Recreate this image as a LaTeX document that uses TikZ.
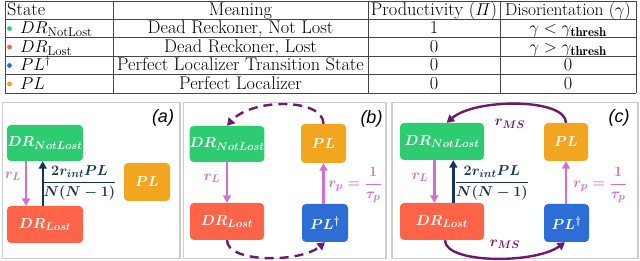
\documentclass[tikz,border=0pt]{standalone}
\usepackage{amsmath}
\usepackage{fontspec}
\newfontfamily\labelfont{Liberation Sans}
\usetikzlibrary{arrows.meta}
\definecolor{cgreen}{RGB}{46,204,113}
\definecolor{cred}{RGB}{255,99,72}
\definecolor{corange}{RGB}{242,165,30}
\definecolor{cblue}{RGB}{45,110,214}
\definecolor{cpink}{RGB}{214,110,210}
\definecolor{cnavy}{RGB}{22,52,88}
\definecolor{cpurple}{RGB}{112,24,110}
\definecolor{panelgray}{RGB}{205,205,205}
\definecolor{tabline}{RGB}{70,70,70}
\begin{document}
\begin{tikzpicture}[x=1pt,y=-1pt,
  tabtext/.style={font=\fontsize{18.3}{20}\selectfont, inner sep=0pt, anchor=base},
  statebox/.style={rounded corners=4pt, text=white, inner sep=0pt, font=\fontsize{15}{17}\selectfont\boldmath},
  mlabel/.style={inner sep=0pt, font=\fontsize{15}{17}\selectfont\boldmath},
  plabel/.style={inner sep=0pt, font=\labelfont\itshape\fontsize{18}{20}\selectfont},
  panel/.style={draw=panelgray, line width=1.6pt},
  pinkarrow/.style={draw=cpink, line width=2.4pt, -{Triangle[length=7.5pt,width=8pt]}},
  navyarrow/.style={draw=cnavy, line width=2.4pt, -{Triangle[length=7.5pt,width=8pt]}},
  purplearrow/.style={draw=cpurple, line width=2.4pt, -{Triangle[length=7.5pt,width=8.5pt]}},
  tabrule/.style={draw=tabline, line width=0.8pt}
]
\useasboundingbox (0,0) rectangle (640,261);
\fill[white] (0,0) rectangle (640,261);

% ---------- table ----------
\foreach \yy in {1,19,37.5,56,74.5,93} {\draw[tabrule] (5,\yy) -- (636,\yy);}
\foreach \xx in {5,113,368,500,636} {\draw[tabrule] (\xx,1) -- (\xx,93);}

\node[tabtext, anchor=base west] (hState) at (7,15.5) {State};
\node[tabtext] (hMeaning) at (240.5,15.5) {Meaning};
\node[tabtext] (hProd) at (434,15.5) {Productivity ($\varPi$)};
\node[tabtext, font=\fontsize{17.4}{20}\selectfont] (hDis) at (568,15.5) {Disorientation ($\gamma$)};

\fill[cgreen] (9.5,28.5) circle (2.4);
\fill[cred] (9.5,47) circle (2.4);
\fill[cblue] (9.5,65.5) circle (2.4);
\fill[corange] (9.5,84) circle (2.4);

\node[tabtext, anchor=base west] (s1) at (20,33.8) {$DR_{\mathrm{NotLost}}$};
\node[tabtext, anchor=base west] (s2) at (20,52.4) {$DR_{\mathrm{Lost}}$};
\node[tabtext, anchor=base west] (s3) at (20,70.9) {$PL^{\dagger}$};
\node[tabtext, anchor=base west] (s4) at (20,89.4) {$PL$};

\node[tabtext] (m1) at (240.5,33.8) {Dead Reckoner, Not Lost};
\node[tabtext] (m2) at (240.5,52.4) {Dead Reckoner, Lost};
\node[tabtext] (m3) at (240.5,70.9) {Perfect Localizer Transition State};
\node[tabtext] (m4) at (240.5,89.4) {Perfect Localizer};

\node[tabtext] (p1) at (434,33.8) {1};
\node[tabtext] (p2) at (434,52.4) {0};
\node[tabtext] (p3) at (434,70.9) {0};
\node[tabtext] (p4) at (434,89.4) {0};

\node[tabtext] (d1) at (568,33.8) {$\gamma < \gamma_{\mathbf{thresh}}$};
\node[tabtext] (d2) at (568,52.4) {$\gamma > \gamma_{\mathbf{thresh}}$};
\node[tabtext] (d3) at (568,70.9) {0};
\node[tabtext] (d4) at (568,89.4) {0};

% ---------- panels ----------
\draw[panel] (2.5,102.5) rectangle (180,258.5);
\draw[panel] (183.5,102.5) rectangle (386,258.5);
\draw[panel] (392,102.5) rectangle (638,258.5);

\node[plabel] (la) at (163,118) {(a)};
\node[plabel] (lb) at (371.5,119) {(b)};
\node[plabel] (lc) at (619,118) {(c)};

% panel (a)
\node[statebox, fill=cgreen, minimum width=76pt, minimum height=36pt] (NLa) at (45,143) {$DR_{NotLost}$};
\node[statebox, fill=cred, minimum width=76pt, minimum height=37pt] (La) at (45,224.5) {$DR_{Lost}$};
\node[statebox, fill=corange, minimum width=46pt, minimum height=38pt] (PLa) at (147,182) {$PL$};
\draw[pinkarrow] ([xshift=-19pt]NLa.south) -- ([xshift=-19pt]La.north);
\draw[navyarrow] ([xshift=-2.3pt]La.north) -- ([xshift=-2.3pt]NLa.south);
\node[mlabel, text=cpink] (rLa) at (13,176) {$r_L$};
\node[mlabel, text=cnavy] (fa) at (79.5,183) {$\dfrac{2r_{int}PL}{N(N-1)}$};

% panel (b)
\node[statebox, fill=cgreen, minimum width=74pt, minimum height=36pt] (NLb) at (227,144) {$DR_{NotLost}$};
\node[statebox, fill=cred, minimum width=74pt, minimum height=37pt] (Lb) at (227,221.5) {$DR_{Lost}$};
\node[statebox, fill=corange, minimum width=45pt, minimum height=39pt] (PLb) at (323.5,143.5) {$PL$};
\node[statebox, fill=cblue, minimum width=46pt, minimum height=38pt] (PLdb) at (325,223) {$PL^{\dagger}$};
\draw[pinkarrow] (NLb.south) -- (Lb.north);
\draw[pinkarrow] (PLdb.north -| PLb.south) -- (PLb.south);
\node[mlabel, text=cpink] (rLb) at (212,178) {$r_L$};
\node[mlabel, text=cpink] (rpb) at (355,185) {$r_p=\dfrac{1}{\tau_p}$};
\draw[purplearrow, dash pattern=on 9pt off 6pt] (PLb.north) .. controls (323.5,98) and (252,98) .. (NLb.north);
\draw[purplearrow, dash pattern=on 9pt off 6pt] (Lb.south) .. controls (227,263) and (300,263) .. (PLdb.south);

% panel (c)
\node[statebox, fill=cgreen, minimum width=84pt, minimum height=37pt] (NLc) at (442,141.5) {$DR_{NotLost}$};
\node[statebox, fill=cred, minimum width=84pt, minimum height=37pt] (Lc) at (442,221.5) {$DR_{Lost}$};
\node[statebox, fill=corange, minimum width=44pt, minimum height=38pt] (PLc) at (566,142) {$PL$};
\node[statebox, fill=cblue, minimum width=45pt, minimum height=38pt] (PLdc) at (566.5,223) {$PL^{\dagger}$};
\draw[pinkarrow] ([xshift=-7.7pt]NLc.south) -- ([xshift=-7.7pt]Lc.north);
\draw[navyarrow] ([xshift=11.3pt]Lc.north) -- ([xshift=11.3pt]NLc.south);
\draw[pinkarrow] (PLdc.north -| PLc.south) -- (PLc.south);
\node[mlabel, text=cpink] (rLc) at (420,177) {$r_L$};
\node[mlabel, text=cnavy] (fc) at (492,183) {$\dfrac{2r_{int}PL}{N(N-1)}$};
\node[mlabel, text=cpink] (rpc) at (600,185) {$r_p=\dfrac{1}{\tau_p}$};
\draw[purplearrow] (PLc.north) .. controls (566,98) and (475,98) .. ([xshift=4.7pt]NLc.north);
\draw[purplearrow] ([xshift=3pt]Lc.south) .. controls (445,264) and (535,264) .. ([xshift=-1.5pt]PLdc.south);
\node[mlabel, text=cpurple] (rMS1) at (510,124) {$r_{MS}$};
\node[mlabel, text=cpurple] (rMS2) at (505,244) {$r_{MS}$};
\end{tikzpicture}
\end{document}
